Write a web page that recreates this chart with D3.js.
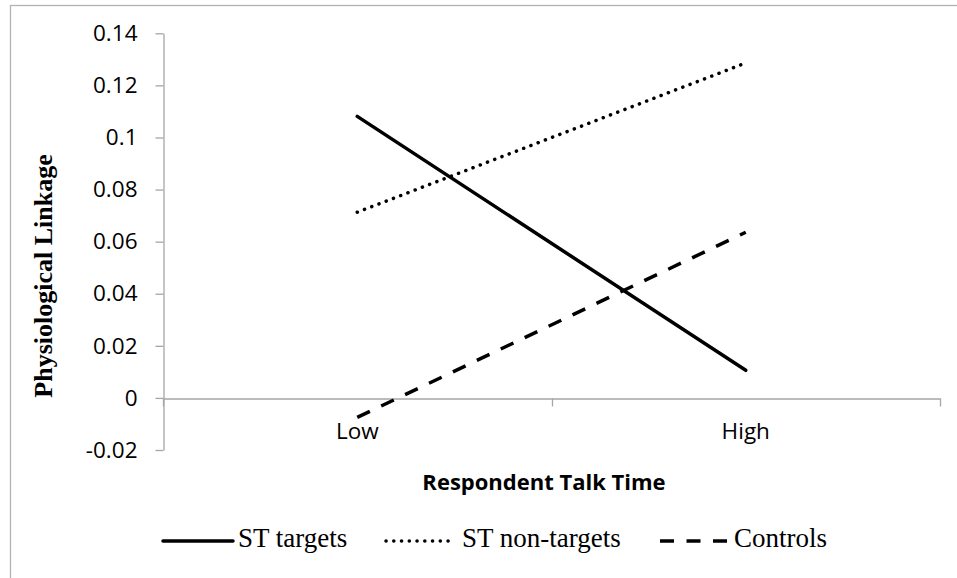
<html lang="en">
<head>
<meta charset="UTF-8">
<title>Physiological Linkage</title>
<style>
  body { margin: 0; background: #fff; }
</style>
</head>
<body>
<script src="https://d3js.org/d3.v7.min.js"></script>
<svg id="chart"></svg>
<script>
    // values
    var categories = ["Low", "High"];
    var stTargets = [0.1081, 0.0106];
    var stNonTargets = [0.0713, 0.1286];
    var controls = [-0.0075, 0.0636];
    var yTicks = [-0.02, 0, 0.02, 0.04, 0.06, 0.08, 0.1, 0.12, 0.14];
    var seriesNames = ["ST targets", "ST non-targets", "Controls"];

    var W = 957, H = 578;
    var plot = {left: 163, right: 940, top: 33.3, bottom: 450};
    var axisGray = "#a6a6a6";
    var sansFont = "'Open Sans', Lato, sans-serif";
    var serifFont = "'Liberation Serif', 'Times New Roman', serif";

    var svg = d3.select("#chart")
        .attr("width", W)
        .attr("height", H);

    // chart area border (runs off the right and bottom)
    svg.append("rect")
        .attr("x", 10.5).attr("y", 5.5)
        .attr("width", 1000).attr("height", 700)
        .attr("fill", "none")
        .attr("stroke", "#b3b3b3")
        .attr("stroke-width", 1.3);

    var x = d3.scaleBand()
        .domain(categories)
        .range([plot.left, plot.right])
        .padding(0);
    var y = d3.scaleLinear()
        .domain([yTicks[0], yTicks[yTicks.length - 1]])
        .range([plot.bottom, plot.top]);
    var xc = function(d) { return x(d) + x.bandwidth() / 2; };

    // y axis
    var yAxis = svg.append("g")
        .attr("transform", "translate(" + (plot.left + 0.5) + ",0)")
        .call(d3.axisLeft(y).tickValues(yTicks).tickSize(8).tickPadding(18)
            .tickSizeOuter(0)
            .tickFormat(function(d) { return String(+d.toFixed(2)); }));
    yAxis.select(".domain").attr("stroke", axisGray).attr("stroke-width", 1.3);
    yAxis.selectAll(".tick line").attr("stroke", axisGray).attr("stroke-width", 1.3);
    yAxis.selectAll(".tick text")
        .attr("fill", "#000")
        .style("font-family", sansFont)
        .style("font-size", "22.5px");

    // x axis sits on zero, ticks at the category boundaries
    var y0 = Math.round(y(0)) + 0.5;
    var xAxis = svg.append("g")
        .attr("transform", "translate(0," + y0 + ")")
        .call(d3.axisBottom(x).tickSize(0).tickPadding(25));
    xAxis.select(".domain").attr("stroke", axisGray).attr("stroke-width", 1.3);
    xAxis.selectAll(".tick text")
        .attr("fill", "#000")
        .style("font-family", sansFont)
        .style("font-size", "22.5px");
    var bounds = categories.map(function(d) { return x(d); }).concat([x.range()[1]]);
    xAxis.selectAll(".bound")
        .data(bounds)
        .enter().append("line")
        .attr("class", "bound")
        .attr("x1", function(d) { return Math.round(d) + 0.5; })
        .attr("x2", function(d) { return Math.round(d) + 0.5; })
        .attr("y1", 0).attr("y2", 8)
        .attr("stroke", axisGray).attr("stroke-width", 1.3);

    // axis titles
    svg.append("text")
        .attr("x", 544).attr("y", 490)
        .attr("text-anchor", "middle")
        .style("font-family", sansFont)
        .style("font-weight", "bold")
        .style("font-size", "22px")
        .text("Respondent Talk Time");
    svg.append("text")
        .attr("transform", "translate(52,276) rotate(-90)")
        .attr("text-anchor", "middle")
        .style("font-family", serifFont)
        .style("font-weight", "bold")
        .style("font-size", "26px")
        .text("Physiological Linkage");

    // series
    var styles = [
        {dash: null, cap: "round"},
        {dash: "0.1,7.65", cap: "round"},
        {dash: "14,12.5", cap: "butt"}
    ];
    var series = [stTargets, stNonTargets, controls].map(function(vals, i) {
        return {name: seriesNames[i], style: styles[i],
            points: vals.map(function(v, j) { return {cat: categories[j], v: v}; })};
    });

    var line = d3.line()
        .x(function(d) { return xc(d.cat); })
        .y(function(d) { return y(d.v); });

    svg.append("g")
        .selectAll("path")
        .data(series)
        .enter().append("path")
        .attr("d", function(d) { return line(d.points); })
        .attr("fill", "none")
        .attr("stroke", "#000")
        .attr("stroke-width", 3.5)
        .attr("stroke-linecap", function(d) { return d.style.cap; })
        .attr("stroke-dasharray", function(d) { return d.style.dash; });

    // legend
    var legendPos = [
        {x1: 163, x2: 233, tx: 238},
        {x1: 386, x2: 455, tx: 462},
        {x1: 660, x2: 727, tx: 734}
    ];
    var legend = svg.append("g")
        .selectAll("g")
        .data(series)
        .enter().append("g");
    legend.append("line")
        .attr("x1", function(d, i) { return legendPos[i].x1; })
        .attr("x2", function(d, i) { return legendPos[i].x2; })
        .attr("y1", 541).attr("y2", 541)
        .attr("stroke", "#000")
        .attr("stroke-width", 3.5)
        .attr("stroke-linecap", function(d) { return d.style.cap; })
        .attr("stroke-dasharray", function(d) { return d.style.dash; });
    legend.append("text")
        .attr("x", function(d, i) { return legendPos[i].tx; })
        .attr("y", 547)
        .style("font-family", serifFont)
        .style("font-size", "27px")
        .text(function(d) { return d.name; });
</script>
</body>
</html>
